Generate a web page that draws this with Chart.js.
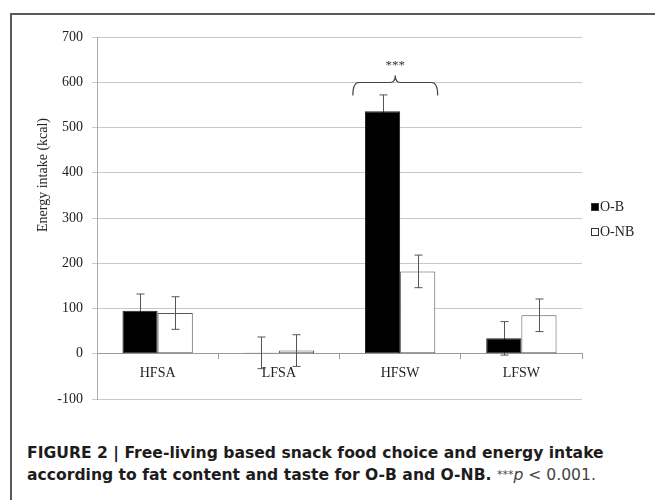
<!DOCTYPE html>
<html>
<head>
<meta charset="utf-8">
<script src="https://cdn.jsdelivr.net/npm/chart.js@4/dist/chart.umd.min.js"></script>
<style>
  html, body { margin: 0; padding: 0; background: #fff; }
  #wrap { position: relative; width: 655px; height: 500px; overflow: hidden; }
  #frame { position: absolute; left: 10px; top: 13px; width: 700px; height: 600px;
    border-top: 2px solid #5a5a5a; border-left: 2px solid #5a5a5a; }
  #myChart { position: absolute; left: 0; top: 0; }
  #ytitle { position: absolute; left: 43px; top: 175px; transform: translate(-50%, -50%) rotate(-90deg);
    font: 14px "Liberation Serif", serif; color: #222; white-space: nowrap; }
  .leg { position: absolute; left: 591px; font: 14px "Liberation Serif", serif; color: #222; white-space: nowrap; }
  .leg i { display: inline-block; width: 6px; height: 6px; margin-right: 1px; border: 1px solid #333; }
  #caption { position: absolute; left: 27px; top: 443px; font: bold 15.6px/21px "DejaVu Sans", sans-serif;
    color: #1e1b1c; white-space: nowrap; }
  #caption .n { font-weight: normal; color: #444; }
  #caption .st { font-size: 11px; vertical-align: 2px; }
</style>
</head>
<body>
<div id="wrap">
  <div id="frame"></div>
  <canvas id="myChart" width="655" height="440"></canvas>
  <div id="ytitle">Energy intake (kcal)</div>
  <div class="leg" style="top:199px"><i style="background:#000"></i>O-B</div>
  <div class="leg" style="top:224px"><i style="background:#fff"></i>O-NB</div>
  <div id="caption">FIGURE 2 | Free-living based snack food choice and energy intake<br>according to fat content and taste for O-B and O-NB. <span class="n"><span class="st">***</span><i>p</i> &lt; 0.001.</span></div>
</div>
<script>
; ((D, log = arg => console.log(arg)) => {

  let categories = ['HFSA', 'LFSA', 'HFSW', 'LFSW'];
  let seriesNames = ['O-B', 'O-NB'];
  let obValues = [95, 2, 536, 34];
  let obErrors = [37, 35, 36, 37];
  let onbValues = [90, 7, 182, 85];
  let onbErrors = [36, 35, 36, 36];
  let yTicks = [-100, 0, 100, 200, 300, 400, 500, 600, 700];

  // significance bracket over HFSW
  let sigCategory = 'HFSW';
  let sigLabel = '***';
  let sigLevel = 600;

  let errors = [obErrors, onbErrors];
  let serif = '"Liberation Serif", "Times New Roman", serif';

  let drawErrors = (chart, i) => {
    let c = chart.ctx;
    let y = chart.scales.y;
    let ds = chart.data.datasets[i];
    c.save();
    c.strokeStyle = '#555';
    c.lineWidth = 1;
    chart.getDatasetMeta(i).data.forEach((el, j) => {
      let v = ds.data[j], e = errors[i][j];
      let x = Math.round(el.x) + 0.5;
      let top = y.getPixelForValue(v + e), bot = y.getPixelForValue(v - e);
      c.beginPath();
      c.moveTo(x, top); c.lineTo(x, bot);
      c.moveTo(x - 4, top); c.lineTo(x + 4, top);
      c.moveTo(x - 4, bot); c.lineTo(x + 4, bot);
      c.stroke();
    });
    c.restore();
  };

  // O-B bars are solid, so they hide the lower half of their own error bar; O-NB drawn on top
  let errorBars = {
    id: 'errorBars',
    beforeDatasetsDraw(chart) { drawErrors(chart, 0); },
    afterDatasetsDraw(chart) { drawErrors(chart, 1); }
  };

  let bracket = {
    id: 'bracket',
    afterDraw(chart) {
      let c = chart.ctx;
      let xs = chart.scales.x, ys = chart.scales.y;
      let idx = categories.indexOf(sigCategory);
      let w = xs.getPixelForValue(1) - xs.getPixelForValue(0);
      let xc = xs.getPixelForValue(idx) - 0.04 * w;
      let x0 = xc - 0.35 * w, x1 = xc + 0.35 * w;
      let y0 = Math.round(ys.getPixelForValue(sigLevel)) + 0.5;
      c.save();
      c.strokeStyle = '#444';
      c.lineWidth = 1.2;
      c.beginPath();
      c.moveTo(x0, y0 + 13);
      c.quadraticCurveTo(x0, y0, x0 + 6, y0);
      c.lineTo(xc - 5, y0);
      c.quadraticCurveTo(xc, y0, xc, y0 - 7);
      c.quadraticCurveTo(xc, y0, xc + 5, y0);
      c.lineTo(x1 - 6, y0);
      c.quadraticCurveTo(x1, y0, x1, y0 + 13);
      c.stroke();
      c.fillStyle = '#333';
      c.font = '13px ' + serif;
      c.textAlign = 'center';
      c.textBaseline = 'middle';
      c.fillText(sigLabel, xc, y0 - 17);
      c.restore();
    }
  };

  let build = () => {
    let ctx = D.querySelector('#myChart').getContext('2d');

    let chart = new Chart(ctx, {
      type: 'bar',
      data: {
        labels: categories,
        datasets: [
          { label: seriesNames[0], data: obValues, backgroundColor: '#000', borderColor: '#222', borderWidth: 1, borderSkipped: false },
          { label: seriesNames[1], data: onbValues, backgroundColor: '#fff', borderColor: '#555', borderWidth: 1, borderSkipped: false },
        ]
      },
      options: {
        responsive: false,
        animation: false,
        categoryPercentage: 0.58,
        barPercentage: 1.0,
        layout: { padding: { left: 0, right: 73, top: 37, bottom: 41 } },
        plugins: { legend: { display: false }, tooltip: { enabled: false } },
        scales: {
          x: {
            position: { y: 0 },
            afterFit: s => { s.height = 0; },
            grid: { drawOnChartArea: false, drawTicks: true, tickLength: 5, color: '#999', offset: true },
            border: { display: true, color: '#999', width: 1 },
            ticks: { color: '#222', padding: 6, font: { family: serif, size: 14 } }
          },
          y: {
            min: -100,
            max: 700,
            afterFit: s => { s.width = 97; },
            afterBuildTicks: s => { s.ticks = yTicks.map(v => ({ value: v })); },
            grid: { color: '#c8c8c8', tickLength: 5 },
            border: { display: true, color: '#aaa' },
            ticks: { color: '#222', padding: 9, font: { family: serif, size: 14 } }
          }
        }
      },
      plugins: [errorBars, bracket]
    });
    log(chart.chartArea);
  };

  D.fonts.load('14px "Liberation Serif"').then(build, build);
})(document)
</script>
</body>
</html>
